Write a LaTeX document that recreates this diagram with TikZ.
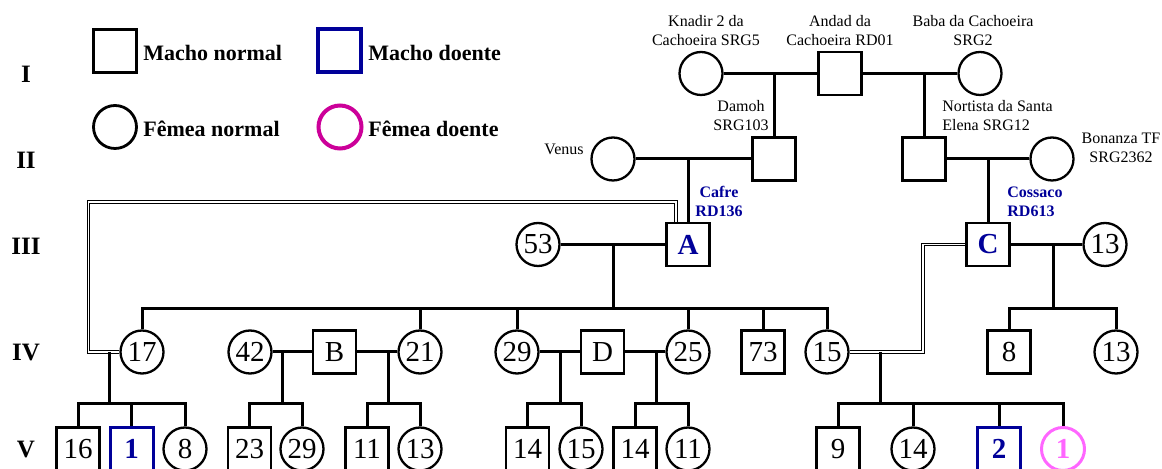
\documentclass[tikz,border=0pt]{standalone}
\usepackage{fontspec}
\setmainfont{Liberation Serif}
\definecolor{doenteM}{RGB}{0,0,153}
\definecolor{doenteF}{RGB}{204,0,153}
\definecolor{doenteR}{RGB}{255,102,255}
\begin{document}
\begin{tikzpicture}[x=0.5pt,y=-0.5pt,
    macho/.style={draw,line width=1.15pt,minimum size=21.5pt,inner sep=0pt,font=\fontsize{14.5}{14.5}\selectfont},
    femea/.style={macho,circle},
    portador/.style={macho,text=doenteM,font=\fontsize{14.5}{14.5}\selectfont\bfseries},
    machoD/.style={macho,draw=doenteM,line width=1.5pt,text=doenteM,font=\fontsize{14.5}{14.5}\selectfont\bfseries},
    femeaD/.style={femea,draw=doenteR,line width=1.5pt,text=doenteR,font=\fontsize{14.5}{14.5}\selectfont\bfseries},
    nome/.style={font=\fontsize{8}{9.5}\selectfont,align=center,inner sep=0pt},
    nomeD/.style={nome,text=doenteM,font=\fontsize{8}{9.5}\selectfont\bfseries},
    ger/.style={font=\fontsize{12.5}{12.5}\selectfont\bfseries},
    leg/.style={font=\fontsize{11}{11}\selectfont\bfseries,anchor=west,inner sep=0pt},
    lig/.style={line width=1.5pt},
    cons/.style={double,line width=0.6pt,double distance=0.7pt}]
  \useasboundingbox (0,0) rectangle (1162,469);
  % legenda
  \node[macho,line width=1.3pt] (lM) at (115,51) {};
  \node[leg] (lMt) at (143,53) {Macho normal};
  \node[machoD,line width=2pt] (lMD) at (339.5,51) {};
  \node[leg] (lMDt) at (368,53) {Macho doente};
  \node[femea,line width=1.4pt] (lF) at (115,127) {};
  \node[leg] (lFt) at (143,129) {Fêmea normal};
  \node[femea,draw=doenteF,line width=2pt] (lFD) at (340,127) {};
  \node[leg] (lFDt) at (368,129) {Fêmea doente};
  % gerações
  \node[ger] (gI) at (26,74) {I};
  \node[ger] (gII) at (26,160) {II};
  \node[ger] (gIII) at (26,246) {III};
  \node[ger] (gIV) at (26,353) {IV};
  \node[ger] (gV) at (26,450) {V};
  % geração I e II
  \node[femea] (knadir) at (701,73.5) {};
  \node[macho] (andad) at (840,73.5) {};
  \node[femea] (baba) at (980,73.5) {};
  \node[femea] (venus) at (613,159) {};
  \node[macho] (damoh) at (774,159) {};
  \node[macho] (nortista) at (924,159) {};
  \node[femea] (bonanza) at (1052,159) {};
  \node[nome] (tknadir) at (706,31) {Knadir 2 da\\Cachoeira SRG5};
  \node[nome] (tandad) at (840,31) {Andad da\\Cachoeira RD01};
  \node[nome] (tbaba) at (973,31) {Baba da Cachoeira\\SRG2};
  \node[nome] (tdamoh) at (741,116) {Damoh\\SRG103};
  \node[nome,anchor=west,align=left] (tnortista) at (942,116) {Nortista da Santa\\Elena SRG12};
  \node[nome,anchor=east] (tvenus) at (584,149) {Venus};
  \node[nome] (tbonanza) at (1121,147.5) {Bonanza TF\\SRG2362};
  \draw[lig] (knadir) -- (andad) -- (baba);
  \coordinate (j1) at (damoh |- knadir);
  \coordinate (j2) at (nortista |- baba);
  \draw[lig] (j1) -- (damoh);
  \draw[lig] (j2) -- (nortista);
  % geração III
  \node[femea] (f53) at (538,244.5) {53};
  \node[portador] (A) at (688,244.5) {A};
  \node[portador] (C) at (988,244.5) {C};
  \node[femea] (f13) at (1105,244.5) {13};
  \node[nomeD] (tcafre) at (719,201.5) {Cafre\\RD136};
  \node[nomeD,anchor=west,align=left] (tcossaco) at (1007,201.5) {Cossaco\\RD613};
  \draw[lig] (venus) -- (damoh);
  \draw[lig] (nortista) -- (bonanza);
  \coordinate (j3) at (A |- venus);
  \coordinate (j4) at (C |- bonanza);
  \draw[lig] (j3) -- (A);
  \draw[lig] (j4) -- (C);
  \draw[lig] (f53) -- (A);
  \draw[lig] (C) -- (f13);
  % geração IV
  \node[femea] (f17) at (142,352) {17};
  \node[femea] (f42) at (250,352) {42};
  \node[macho] (B) at (334.5,352) {B};
  \node[femea] (f21) at (420,352) {21};
  \node[femea] (f29) at (517,352) {29};
  \node[macho] (D) at (602.5,352) {D};
  \node[femea] (f25) at (688,352) {25};
  \node[macho] (m73) at (763,352) {73};
  \node[femea] (f15) at (827,352) {15};
  \node[macho] (m8) at (1009,352) {8};
  \node[femea] (f13b) at (1116,352) {13};
  \coordinate (j5) at (613,244.5);
  \coordinate (s5) at (613,309);
  \draw[lig] (j5) -- (s5);
  \draw[lig] (f17.north) |- (s5) -| (f15.north);
  \foreach \n in {f21,f29,f25,m73}{ \draw[lig] (\n.north) -- (\n.north |- s5); }
  \coordinate (j6) at (1053,244.5);
  \coordinate (s6) at (1053,309);
  \draw[lig] (j6) -- (s6);
  \draw[lig] (m8.north) |- (s6) -| (f13b.north);
  \draw[lig] (f42) -- (B) -- (f21);
  \draw[lig] (f29) -- (D) -- (f25);
  % consanguíneos
  \coordinate (cA) at (676,202);
  \coordinate (cB) at (88.5,352);
  \draw[cons] (cA |- A.north) -- (cA) -| (cB) -- (f17.west);
  \coordinate (cC) at (923,352);
  \draw[cons] (f15.east) -- (cC) |- (C.west);
  % geração V
  \node[macho] (m16) at (78,449) {16};
  \node[machoD] (m1) at (131.5,449) {1};
  \node[femea] (f8) at (185,449) {8};
  \node[macho] (m23) at (249.5,449) {23};
  \node[femea] (f29b) at (302,449) {29};
  \node[macho] (m11) at (367,449) {11};
  \node[femea] (f13c) at (420,449) {13};
  \node[macho] (m14) at (527.5,449) {14};
  \node[femea] (f15b) at (581,449) {15};
  \node[macho] (m14b) at (635,449) {14};
  \node[femea] (f11) at (688,449) {11};
  \node[macho] (m9) at (838,449) {9};
  \node[femea] (f14) at (913,449) {14};
  \node[machoD] (m2) at (999,449) {2};
  \node[femeaD] (f1) at (1063,449) {1};
  % irmandades
  \coordinate (j7) at (109,352);  \coordinate (s7) at (109,404);
  \coordinate (j8) at (282,352);  \coordinate (s8) at (282,404);
  \coordinate (j9) at (388,352);  \coordinate (s9) at (388,404);
  \coordinate (j10) at (560,352); \coordinate (s10) at (560,404);
  \coordinate (j11) at (656,352); \coordinate (s11) at (656,404);
  \coordinate (j12) at (880,352); \coordinate (s12) at (880,404);
  \foreach \a/\b in {j7/s7,j8/s8,j9/s9,j10/s10,j11/s11,j12/s12}{ \draw[lig] (\a) -- (\b); }
  \draw[lig] (m16.north) |- (s7) -| (f8.north);
  \draw[lig] (m1.north) -- (m1.north |- s7);
  \draw[lig] (m23.north) |- (s8) -| (f29b.north);
  \draw[lig] (m11.north) |- (s9) -| (f13c.north);
  \draw[lig] (m14.north) |- (s10) -| (f15b.north);
  \draw[lig] (m14b.north) |- (s11) -| (f11.north);
  \draw[lig] (m9.north) |- (s12) -| (f1.north);
  \foreach \n in {f14,m2}{ \draw[lig] (\n.north) -- (\n.north |- s12); }
\end{tikzpicture}
\end{document}
